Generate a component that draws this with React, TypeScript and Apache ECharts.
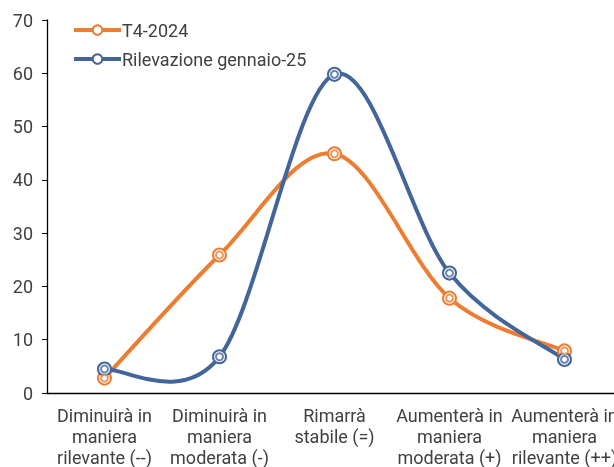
import React, { useEffect, useRef } from "react";
import * as echarts from "echarts";

const categories = [
  "Diminuirà in\nmaniera\nrilevante (--)",
  "Diminuirà in\nmaniera\nmoderata (-)",
  "Rimarrà\nstabile (=)",
  "Aumenterà in\nmaniera\nmoderata (+)",
  "Aumenterà in\nmaniera\nrilevante (++)",
];
const seriesT4 = [2.8, 25.9, 44.9, 17.8, 7.9];
const seriesGen = [4.5, 6.8, 59.8, 22.5, 6.3];
const yTicks = { min: 0, max: 70, interval: 10 };

const ORANGE = "#ED7D31";
const BLUE = "#43669A";
const TEXT = "#404040";
const FONT = "Roboto";

export default function App() {
  const ref = useRef<HTMLDivElement>(null);
  useEffect(() => {
    if (!ref.current) return;
    const chart = echarts.init(ref.current, undefined, { renderer: "svg" });

    // Excel-like smoothed curve (Catmull-Rom, tension 1/6) drawn per segment
    const mkCurve = (data: number[], color: string) => ({
      type: "custom",
      data: data.map((v, i) => [i, v]),
      encode: { x: 0, y: 1 },
      silent: true,
      z: 1,
      renderItem: (params: any, api: any) => {
        const i = params.dataIndex;
        if (i >= data.length - 1) return null;
        const pts = data.map((v, k) => api.coord([k, v]));
        const p0 = pts[Math.max(i - 1, 0)];
        const p1 = pts[i];
        const p2 = pts[i + 1];
        const p3 = pts[Math.min(i + 2, data.length - 1)];
        return {
          type: "bezierCurve",
          shape: {
            x1: p1[0],
            y1: p1[1],
            x2: p2[0],
            y2: p2[1],
            cpx1: p1[0] + (p2[0] - p0[0]) / 6,
            cpy1: p1[1] + (p2[1] - p0[1]) / 6,
            cpx2: p2[0] - (p3[0] - p1[0]) / 6,
            cpy2: p2[1] - (p3[1] - p1[1]) / 6,
          },
          style: { stroke: color, lineWidth: 4, fill: null, lineCap: "round" },
        };
      },
    });
    const mkLine = (name: string, data: number[], color: string) => ({
      name,
      type: "line",
      data,
      symbol: "emptyCircle",
      symbolSize: 13,
      showSymbol: true,
      lineStyle: { color, width: 4, opacity: 0 },
      itemStyle: { color, borderColor: color, borderWidth: 1.5 },
      z: 2,
    });
    const mkInner = (data: number[], color: string) => ({
      type: "scatter",
      data,
      symbol: "emptyCircle",
      symbolSize: 7,
      itemStyle: { color, borderColor: color, borderWidth: 1.4 },
      z: 3,
      silent: true,
    });
    chart.setOption({
      animation: false,
      textStyle: { fontFamily: FONT },
      grid: {
        left: 47,
        right: -8,
        top: 20,
        bottom: 74,
        containLabel: false,
        outerBoundsMode: "none",
      },
      legend: {
        data: [
          { name: "T4-2024", lineStyle: { color: ORANGE, width: 4, opacity: 1 } },
          { name: "Rilevazione gennaio-25", lineStyle: { color: BLUE, width: 4, opacity: 1 } },
        ],
        orient: "vertical",
        left: 67,
        top: 16,
        itemWidth: 47,
        itemHeight: 12,
        itemGap: 11,
        textStyle: {
          fontSize: 18,
          lineHeight: 18,
          color: TEXT,
          fontFamily: FONT,
          padding: [0, 0, 0, -4],
        },
      },
      xAxis: {
        type: "category",
        data: categories,
        boundaryGap: true,
        axisLine: { lineStyle: { color: "#000", width: 1.3 } },
        axisTick: { alignWithLabel: true, length: 5, lineStyle: { color: "#000" } },
        axisLabel: {
          interval: 0,
          color: TEXT,
          fontSize: 18,
          lineHeight: 21,
          margin: 12,
          fontFamily: FONT,
        },
      },
      yAxis: {
        type: "value",
        min: yTicks.min,
        max: yTicks.max,
        interval: yTicks.interval,
        splitLine: { show: false },
        axisLine: { show: true, lineStyle: { color: "#000", width: 1.3 } },
        axisTick: { show: true, length: 5, lineStyle: { color: "#000" } },
        axisLabel: { color: TEXT, fontSize: 18, margin: 14, fontFamily: FONT },
      },
      series: [
        mkCurve(seriesT4, ORANGE),
        mkCurve(seriesGen, BLUE),
        mkLine("T4-2024", seriesT4, ORANGE),
        mkLine("Rilevazione gennaio-25", seriesGen, BLUE),
        mkInner(seriesT4, ORANGE),
        mkInner(seriesGen, BLUE),
      ],
    });
    return () => chart.dispose();
  }, []);
  return (
    <div
      ref={ref}
      style={{ position: "fixed", left: 0, top: 0, width: 614, height: 467 }}
    />
  );
}
